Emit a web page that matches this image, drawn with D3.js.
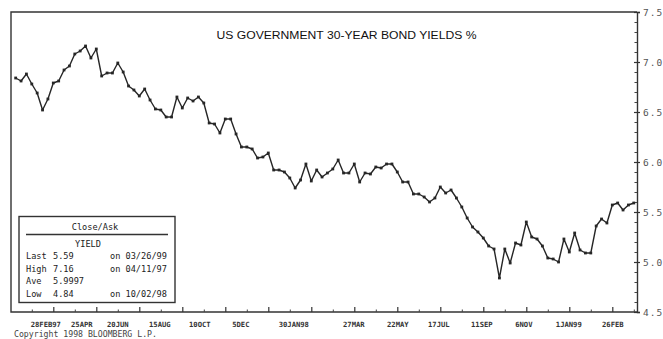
<!DOCTYPE html>
<html><head><meta charset="utf-8">
<script src="https://cdn.jsdelivr.net/npm/d3@7"></script>
<style>body{margin:0;background:#fff}svg{display:block}</style>
</head><body><svg id="c" width="663" height="339"></svg>
<script>
// Weekly (Friday) closes, US Treasury 30-year yield %, from 10 Jan 1997 to 26 Mar 1999
const firstDate = "1997-01-10";
const yields = [
  6.84, 6.81, 6.88, 6.78, 6.69, 6.52, 6.63, 6.79, 6.81, 6.92,
  6.96, 7.08, 7.11, 7.16, 7.04, 7.13, 6.86, 6.89, 6.89, 6.99,
  6.90, 6.76, 6.72, 6.66, 6.73, 6.62, 6.53, 6.52, 6.45, 6.45,
  6.65, 6.54, 6.64, 6.61, 6.65, 6.59, 6.39, 6.38, 6.29, 6.43,
  6.43, 6.28, 6.15, 6.15, 6.13, 6.04, 6.05, 6.09, 5.92, 5.92,
  5.90, 5.84, 5.74, 5.82, 5.98, 5.81, 5.92, 5.85, 5.89, 5.93,
  6.02, 5.89, 5.89, 5.98, 5.80, 5.89, 5.88, 5.95, 5.94, 5.98,
  5.98, 5.90, 5.80, 5.80, 5.68, 5.68, 5.65, 5.60, 5.64, 5.75,
  5.69, 5.72, 5.64, 5.55, 5.44, 5.35, 5.30, 5.24, 5.16, 5.13,
  4.84, 5.13, 4.99, 5.19, 5.17, 5.40, 5.25, 5.23, 5.16, 5.04,
  5.03, 5.00, 5.23, 5.10, 5.29, 5.12, 5.09, 5.09, 5.36, 5.43,
  5.39, 5.57, 5.59, 5.52, 5.57, 5.59
];
const majorTickDates = ["1997-02-28","1997-04-25","1997-06-20","1997-08-15","1997-10-10","1997-12-05","1998-01-30",
  "1998-03-27","1998-05-22","1998-07-17","1998-09-11","1998-11-06","1999-01-01","1999-02-26"];
const majorTickLabels = ["28FEB97","25APR","20JUN","15AUG","10OCT","5DEC","30JAN98",
  "27MAR","22MAY","17JUL","11SEP","6NOV","1JAN99","26FEB"];
const minorTickDates = ["1997-01-31","1997-03-28","1997-05-23","1997-07-18","1997-09-12","1997-11-07","1998-01-02",
  "1998-02-27","1998-04-24","1998-06-19","1998-08-14","1998-10-09","1998-12-04","1999-01-29","1999-03-26"];
const yMajorTicks = [4.5, 5.0, 5.5, 6.0, 6.5, 7.0, 7.5];
const yMajorLabels = ["4.50","5.00","5.50","6.00","6.50","7.00","7.50"];
const yMinorTicks = [4.6,4.7,4.8,4.9,5.1,5.2,5.3,5.4,5.6,5.7,5.8,5.9,6.1,6.2,6.3,6.4,6.6,6.7,6.8,6.9,7.1,7.2,7.3,7.4];
const title = "US GOVERNMENT 30-YEAR BOND YIELDS %";
const legendHeader = "Close/Ask";
const legendSub = "YIELD";
const legendRows = [
  ["Last", "5.59", "on 03/26/99"],
  ["High", "7.16", "on 04/11/97"],
  ["Ave", "5.9997", ""],
  ["Low", "4.84", "on 10/02/98"]
];
const copyright = "Copyright 1998 BLOOMBERG L.P.";

const parse = d3.utcParse("%Y-%m-%d");
const start = parse(firstDate);
const data = yields.map((v, i) => ({date: d3.utcDay.offset(start, 7 * i), v}));

const svg = d3.select("#c");
const L = 11, R = 637, T = 12, B = 312;
const x = d3.scaleUtc().domain([parse("1997-02-28"), parse("1999-02-26")]).range([53.3, 612.3]);
const y = d3.scaleLinear().domain([4.5, 7.5]).range([B, T]);

const ink = "#262626", mono = "'DejaVu Sans Mono', 'Liberation Mono', monospace";

// frame
svg.append("path").attr("d", `M${R},${T}H${L}V${B}H${R}`)
  .attr("fill", "none").attr("stroke", "#333").attr("stroke-width", 1.4);

// right axis
const yAx = svg.append("g").attr("transform", `translate(${R},0)`)
  .call(d3.axisRight(y).tickValues(yMajorTicks).tickFormat((d, i) => yMajorLabels[i]).tickSize(3).tickPadding(3));
yAx.select(".domain").attr("stroke", "#333").attr("stroke-width", 1.4);
yAx.selectAll(".tick line").attr("x1", -3).attr("stroke", "#333").attr("stroke-width", 1.2);
yAx.selectAll(".tick text").attr("font-family", mono).attr("font-size", 9.5)
  .attr("letter-spacing", 1).attr("fill", "#555");
const yMin = svg.append("g").attr("transform", `translate(${R},0)`)
  .call(d3.axisLeft(y).tickValues(yMinorTicks).tickSize(2.5).tickFormat(""));
yMin.select(".domain").remove();
yMin.selectAll(".tick line").attr("stroke", "#444");

// bottom axis ticks (inward)
const xAx = svg.append("g").attr("transform", `translate(0,${B})`)
  .call(d3.axisTop(x).tickValues(majorTickDates.map(parse)).tickSize(5).tickFormat(""));
xAx.select(".domain").remove();
xAx.selectAll(".tick line").attr("stroke", "#333").attr("stroke-width", 1.2);
const xMin = svg.append("g").attr("transform", `translate(0,${B})`)
  .call(d3.axisTop(x).tickValues(minorTickDates.map(parse)).tickSize(2.5).tickFormat(""));
xMin.select(".domain").remove();
xMin.selectAll(".tick line").attr("stroke", "#444");

// x labels (the printed label strip drifts left of the ticks in the first half)
const labelNudge = [-8, -15, -22, -23, -26, -28, -18, -1, 0, -2, -2, -3, -1, 0];
const xLab = svg.append("g").attr("transform", `translate(0,${B})`)
  .call(d3.axisBottom(x).tickValues(majorTickDates.map(parse)).tickSize(0).tickPadding(0)
    .tickFormat((d, i) => majorTickLabels[i]));
xLab.select(".domain").remove();
xLab.selectAll(".tick text").attr("font-family", mono).attr("font-size", 7.2)
  .attr("dy", null).attr("y", 14.5)
  .attr("dx", (d, i) => labelNudge[i])
  .attr("fill", "#333").attr("font-weight", "bold");

// title
svg.append("text").attr("x", 216.5).attr("y", 38.5).text(title)
  .attr("font-family", "'Liberation Sans', Arial, sans-serif").attr("font-size", 10.5)
  .attr("textLength", 260).attr("lengthAdjust", "spacingAndGlyphs").attr("fill", "#111");

// line
const line = d3.line().x(d => x(d.date)).y(d => y(d.v));
svg.append("path").datum(data).attr("d", line).attr("fill", "none")
  .attr("stroke", ink).attr("stroke-width", 1.4).attr("stroke-linejoin", "round");
svg.append("g").selectAll("rect").data(data).join("rect")
  .attr("x", d => x(d.date) - 1.4).attr("y", d => y(d.v) - 1.4)
  .attr("width", 2.8).attr("height", 2.8).attr("fill", ink);

// legend box
const lg = svg.append("g");
lg.append("rect").attr("x", 19).attr("y", 216.5).attr("width", 156).attr("height", 86)
  .attr("fill", "#fff").attr("stroke", "#333").attr("stroke-width", 1.4);
lg.append("line").attr("x1", 26).attr("x2", 168).attr("y1", 234.5).attr("y2", 234.5)
  .attr("stroke", "#333").attr("stroke-width", 1.4);
const ltxt = (t, xx, yy, anchor) => lg.append("text").attr("x", xx).attr("y", yy).text(t)
  .attr("font-family", mono).attr("font-size", 8.6).attr("fill", "#222")
  .attr("text-anchor", anchor || "start");
ltxt(legendHeader, 95, 230, "middle");
ltxt(legendSub, 88, 247, "middle");
legendRows.forEach((r, i) => {
  const yy = 259 + i * 12.7;
  ltxt(r[0], 26, yy);
  ltxt(r[1], 53, yy);
  if (r[2]) ltxt(r[2], 110, yy);
});

// copyright
svg.append("text").attr("x", 14).attr("y", 337).text(copyright)
  .attr("font-family", mono).attr("font-size", 8.2).attr("fill", "#444");
</script></body></html>
